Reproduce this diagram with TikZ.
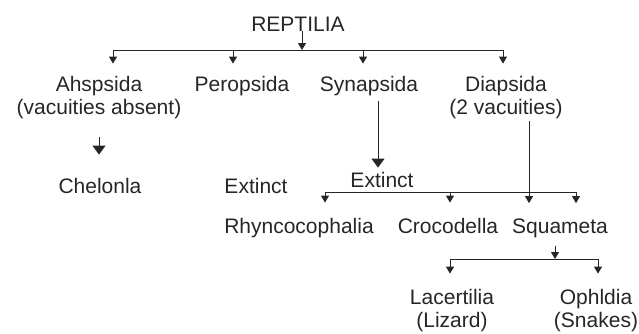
\documentclass[tikz,border=0pt]{standalone}
\usepackage{fontspec}
\setmainfont{Liberation Sans}
\usetikzlibrary{arrows.meta}
\begin{document}
\begin{tikzpicture}[x=1pt,y=-1pt,
  lbl/.style={anchor=base,inner sep=0pt,font=\fontsize{21}{23}\selectfont,text=black!85,align=center},
  arr/.style={-{Triangle[width=8pt,length=7pt]},line width=1pt,draw=black!85},
  bigarr/.style={-{Triangle[width=13pt,length=9pt]},line width=1pt,draw=black!85},
  bar/.style={line width=1pt,draw=black!85}]
\useasboundingbox (0,0) rectangle (639,333);
% nodes (multi-line nodes: base = last line)
\node[lbl] (rep) at (298,31) {REPTILIA};
\node[lbl] (ahs) at (99,114) {Ahspsida\\(vacuities absent)};
\node[lbl] (per) at (242,91) {Peropsida};
\node[lbl] (syn) at (369,91) {Synapsida};
\node[lbl] (dia) at (506,114) {Diapsida\\(2 vacuities)};
\node[lbl] (che) at (100,193) {Chelonla};
\node[lbl] (ext1) at (256,193) {Extinct};
\node[lbl] (ext2) at (382,187) {Extinct};
\node[lbl] (rhy) at (299,233) {Rhyncocophalia};
\node[lbl] (cro) at (448,233) {Crocodella};
\node[lbl] (squ) at (560,233) {Squameta};
\node[lbl] (lac) at (452,327) {Lacertilia\\(Lizard)};
\node[lbl] (oph) at (596,327) {Ophldia\\(Snakes)};
% bar 1
\coordinate (j1) at (302,50);
\coordinate (b1a) at (113,50);
\coordinate (b1b) at (233,50);
\coordinate (b1c) at (363,50);
\coordinate (b1d) at (503,50);
\draw[arr] (rep.south -| j1) -- (j1);
\draw[bar] (b1a) -- (b1d);
\draw[arr,shorten >=12pt] (b1a) -- (b1a |- ahs.north);
\draw[arr,shorten >=12pt] (b1b) -- (b1b |- per.north);
\draw[arr,shorten >=12pt] (b1c) -- (b1c |- syn.north);
\draw[arr,shorten >=12pt] (b1d) -- (b1d |- dia.north);
% Ahspsida -> Chelonla
\draw[bigarr,shorten <=18pt,shorten >=23pt] (ahs.south) -- (ahs.south |- che.north);
% Synapsida -> Extinct
\coordinate (sx) at (378,0);
\draw[bigarr,shorten <=5pt,shorten >=4pt] (sx |- syn.south) -- (sx |- ext2.north);
% bar 2
\coordinate (b2a) at (325,192);
\coordinate (b2b) at (450,192);
\coordinate (b2c) at (529,192);
\coordinate (b2d) at (576,192);
\draw[bar] (b2a) -- (b2d);
\draw[arr,shorten >=15pt] (b2a) -- (b2a |- rhy.north);
\draw[arr,shorten >=15pt] (b2b) -- (b2b |- cro.north);
\draw[arr,shorten <=2pt,shorten >=15pt] (b2c |- dia.south) -- (b2c |- squ.north);
\draw[arr,shorten >=15pt] (b2d) -- (b2d |- squ.north);
% bar 3
\coordinate (j3) at (555,259);
\coordinate (b3a) at (450,259);
\coordinate (b3b) at (598,259);
\draw[arr,shorten <=8pt] (squ.south -| j3) -- (j3);
\draw[bar] (b3a) -- (b3b);
\draw[arr,shorten >=15pt] (b3a) -- (b3a |- lac.north);
\draw[arr,shorten >=15pt] (b3b) -- (b3b |- oph.north);
\end{tikzpicture}
\end{document}
